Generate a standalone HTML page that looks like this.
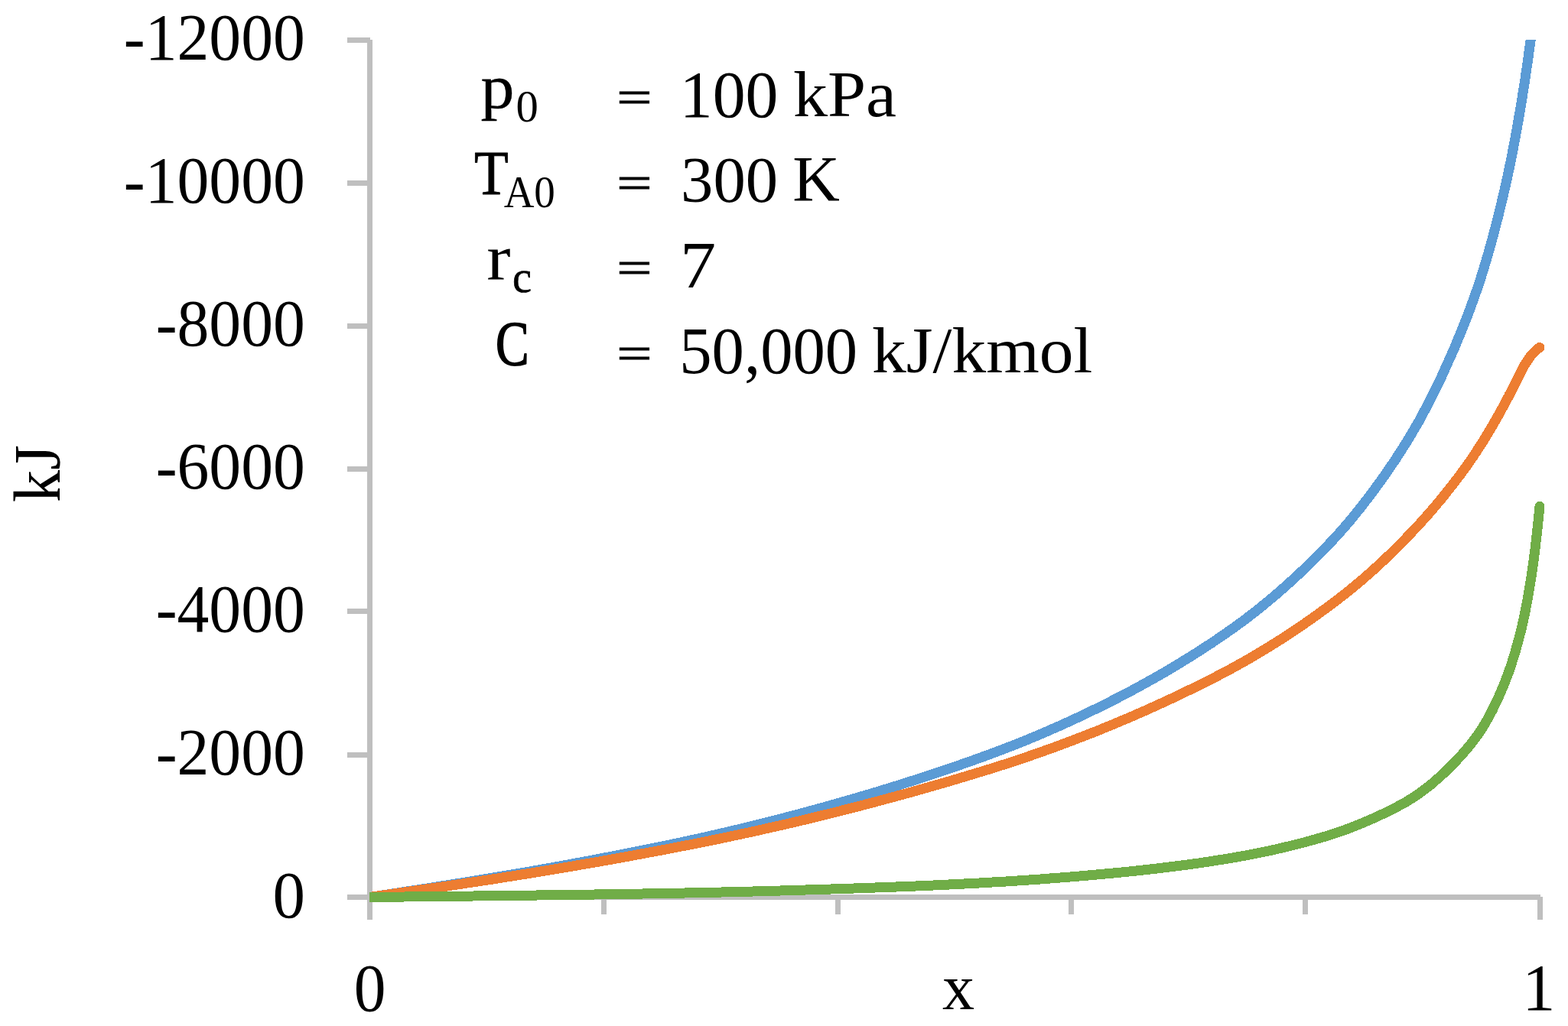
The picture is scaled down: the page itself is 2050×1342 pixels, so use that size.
<!DOCTYPE html>
<html lang="en">
<head>
<meta charset="utf-8">
<title>Chart</title>
<style>
html,body{margin:0;padding:0;background:#fff;}
body{width:2050px;height:1342px;overflow:hidden;}
svg{display:block;}
text{font-family:"Liberation Serif",serif;fill:#000;white-space:pre;}
.c{fill:none;stroke-width:13;stroke-linejoin:round;stroke-linecap:round;}
</style>
</head>
<body>
<svg width="2050" height="1342" viewBox="0 0 2050 1342" role="img" aria-label="Line chart of kJ versus x">
<defs><clipPath id="plot"><rect x="483" y="52" width="1567" height="1140"/></clipPath></defs>
<rect width="2050" height="1342" fill="#fff"/>
<g fill="#BFBFBF" shape-rendering="crispEdges">
<rect x="454" y="49" width="30" height="7"/>
<rect x="454" y="236" width="30" height="7"/>
<rect x="454" y="423" width="30" height="7"/>
<rect x="454" y="610" width="30" height="7"/>
<rect x="454" y="796" width="30" height="7"/>
<rect x="454" y="984" width="30" height="7"/>
<rect x="454" y="1170" width="30" height="7"/>
<rect x="480" y="52" width="7" height="1151"/>
<rect x="483" y="1170" width="1531" height="7"/>
<rect x="786" y="1173" width="7" height="23"/>
<rect x="1092" y="1173" width="7" height="23"/>
<rect x="1397" y="1173" width="7" height="23"/>
<rect x="1703" y="1173" width="7" height="23"/>
<rect x="2010" y="1173" width="7" height="30"/>
</g>
<g clip-path="url(#plot)" shape-rendering="crispEdges">
<path class="c" stroke="#5B9BD5" d="M483.5,1173.5 L498.6,1171.2 L513.6,1168.9 L528.7,1166.5 L543.8,1164.2 L558.8,1161.9 L573.9,1159.5 L589.0,1157.1 L604.1,1154.7 L619.1,1152.3 L634.2,1149.8 L649.3,1147.3 L664.3,1144.8 L679.4,1142.2 L694.5,1139.6 L709.5,1136.9 L724.6,1134.2 L739.7,1131.5 L754.7,1128.7 L769.8,1125.9 L784.9,1123.0 L800.0,1120.1 L815.0,1117.2 L830.1,1114.2 L845.2,1111.2 L860.2,1108.1 L875.3,1105.0 L890.4,1101.8 L905.4,1098.5 L920.5,1095.2 L935.6,1091.7 L950.6,1088.3 L965.7,1084.7 L980.8,1081.0 L995.9,1077.3 L1010.9,1073.5 L1026.0,1069.6 L1041.1,1065.7 L1056.1,1061.6 L1071.2,1057.5 L1086.3,1053.3 L1101.3,1049.0 L1116.4,1044.7 L1131.5,1040.2 L1146.5,1035.7 L1161.6,1031.1 L1176.7,1026.4 L1191.8,1021.6 L1206.8,1016.8 L1221.9,1011.8 L1237.0,1006.7 L1252.0,1001.6 L1267.1,996.3 L1282.2,990.9 L1297.2,985.4 L1312.3,979.7 L1327.4,973.9 L1342.4,967.8 L1357.5,961.5 L1372.6,955.0 L1387.6,948.4 L1402.7,941.5 L1417.8,934.4 L1432.9,927.1 L1447.9,919.6 L1463.0,912.0 L1478.1,904.1 L1493.1,895.9 L1508.2,887.5 L1523.3,878.9 L1538.3,869.9 L1553.4,860.7 L1568.5,851.2 L1583.5,841.4 L1598.6,831.2 L1613.7,820.6 L1628.8,809.5 L1643.8,797.9 L1658.9,785.6 L1674.0,772.7 L1689.0,759.3 L1704.1,745.2 L1719.2,730.6 L1734.2,715.3 L1749.3,699.1 L1764.4,681.8 L1779.4,663.3 L1794.5,643.6 L1809.6,622.7 L1824.7,600.6 L1839.7,577.1 L1854.8,551.5 L1869.9,523.2 L1884.9,492.3 L1900.0,458.5 L1901.3,455.6 L1902.5,452.6 L1903.8,449.6 L1905.1,446.5 L1906.3,443.5 L1907.6,440.4 L1908.9,437.3 L1910.2,434.2 L1911.4,431.1 L1912.7,427.9 L1914.0,424.7 L1915.2,421.5 L1916.5,418.3 L1917.8,415.0 L1919.0,411.7 L1920.3,408.3 L1921.6,404.9 L1922.9,401.5 L1924.1,398.0 L1925.4,394.5 L1926.7,391.0 L1927.9,387.4 L1929.2,383.8 L1930.5,380.2 L1931.7,376.5 L1933.0,372.7 L1934.3,368.9 L1935.6,365.0 L1936.8,361.0 L1938.1,357.0 L1939.4,352.9 L1940.6,348.8 L1941.9,344.6 L1943.2,340.3 L1944.4,336.0 L1945.7,331.6 L1947.0,327.1 L1948.2,322.6 L1949.5,318.0 L1950.8,313.4 L1952.1,308.7 L1953.3,303.9 L1954.6,299.1 L1955.9,294.2 L1957.1,289.2 L1958.4,284.2 L1959.7,279.1 L1960.9,273.9 L1962.2,268.7 L1963.5,263.4 L1964.8,258.0 L1966.0,252.6 L1967.3,247.1 L1968.6,241.5 L1969.8,235.8 L1971.1,230.0 L1972.4,224.1 L1973.6,218.1 L1974.9,211.9 L1976.2,205.6 L1977.4,199.1 L1978.7,192.5 L1980.0,185.8 L1981.3,179.0 L1982.5,172.0 L1983.8,164.9 L1985.1,157.6 L1986.3,150.3 L1987.6,142.8 L1988.9,135.2 L1990.1,127.5 L1991.4,119.5 L1992.7,111.4 L1994.0,103.1 L1995.2,94.5 L1996.5,85.8 L1997.8,77.0 L1999.0,67.9 L2000.3,58.6 L2001.6,49.1 L2002.8,39.2 L2004.1,28.8 L2005.4,18.0 L2006.7,6.6 L2007.9,-5.1 L2009.2,-17.4 L2010.5,-30.1 L2011.7,-43.3 L2013.0,-56.9"/>
<path class="c" stroke="#ED7D31" d="M483.5,1173.5 L498.6,1171.3 L513.6,1169.2 L528.7,1167.0 L543.8,1164.8 L558.8,1162.7 L573.9,1160.5 L589.0,1158.3 L604.1,1156.0 L619.1,1153.8 L634.2,1151.5 L649.3,1149.2 L664.3,1146.8 L679.4,1144.4 L694.5,1142.0 L709.5,1139.5 L724.6,1137.0 L739.7,1134.5 L754.7,1131.9 L769.8,1129.3 L784.9,1126.7 L800.0,1124.0 L815.0,1121.3 L830.1,1118.5 L845.2,1115.7 L860.2,1112.9 L875.3,1110.1 L890.4,1107.1 L905.4,1104.2 L920.5,1101.2 L935.6,1098.1 L950.6,1095.0 L965.7,1091.7 L980.8,1088.5 L995.9,1085.1 L1010.9,1081.7 L1026.0,1078.3 L1041.1,1074.8 L1056.1,1071.2 L1071.2,1067.5 L1086.3,1063.8 L1101.3,1060.0 L1116.4,1056.2 L1131.5,1052.2 L1146.5,1048.3 L1161.6,1044.2 L1176.7,1040.1 L1191.8,1036.0 L1206.8,1031.7 L1221.9,1027.4 L1237.0,1023.1 L1252.0,1018.6 L1267.1,1014.1 L1282.2,1009.5 L1297.2,1004.9 L1312.3,1000.1 L1327.4,995.2 L1342.4,990.1 L1357.5,984.9 L1372.6,979.5 L1387.6,974.0 L1402.7,968.3 L1417.8,962.5 L1432.9,956.6 L1447.9,950.5 L1463.0,944.2 L1478.1,937.8 L1493.1,931.3 L1508.2,924.5 L1523.3,917.6 L1538.3,910.6 L1553.4,903.3 L1568.5,895.9 L1583.5,888.4 L1598.6,880.6 L1613.7,872.5 L1628.8,864.1 L1643.8,855.3 L1658.9,846.2 L1674.0,836.7 L1689.0,826.9 L1704.1,816.7 L1719.2,806.1 L1734.2,795.2 L1749.3,783.9 L1764.4,772.0 L1779.4,759.5 L1794.5,746.3 L1809.6,732.4 L1824.7,717.8 L1839.7,702.5 L1854.8,686.6 L1869.9,669.7 L1884.9,651.9 L1900.0,632.9 L1901.3,631.3 L1902.5,629.6 L1903.8,627.9 L1905.1,626.3 L1906.3,624.6 L1907.6,622.9 L1908.9,621.2 L1910.2,619.5 L1911.4,617.8 L1912.7,616.0 L1914.0,614.3 L1915.2,612.5 L1916.5,610.8 L1917.8,609.0 L1919.0,607.2 L1920.3,605.4 L1921.6,603.6 L1922.9,601.7 L1924.1,599.9 L1925.4,598.0 L1926.7,596.1 L1927.9,594.2 L1929.2,592.3 L1930.5,590.4 L1931.7,588.4 L1933.0,586.5 L1934.3,584.5 L1935.6,582.5 L1936.8,580.5 L1938.1,578.5 L1939.4,576.5 L1940.6,574.4 L1941.9,572.3 L1943.2,570.3 L1944.4,568.2 L1945.7,566.1 L1947.0,563.9 L1948.2,561.8 L1949.5,559.6 L1950.8,557.5 L1952.1,555.3 L1953.3,553.1 L1954.6,550.9 L1955.9,548.6 L1957.1,546.4 L1958.4,544.1 L1959.7,541.9 L1960.9,539.6 L1962.2,537.3 L1963.5,534.9 L1964.8,532.6 L1966.0,530.3 L1967.3,527.9 L1968.6,525.5 L1969.8,523.1 L1971.1,520.7 L1972.4,518.3 L1973.6,515.8 L1974.9,513.4 L1976.2,510.9 L1977.4,508.4 L1978.7,505.9 L1980.0,503.4 L1981.3,500.9 L1982.5,498.3 L1983.8,495.7 L1985.1,493.1 L1986.3,490.5 L1987.6,487.9 L1988.9,485.4 L1990.1,483.0 L1991.4,480.7 L1992.7,478.5 L1994.0,476.3 L1995.2,474.3 L1996.5,472.3 L1997.8,470.4 L1999.0,468.6 L2000.3,466.9 L2001.6,465.2 L2002.8,463.7 L2004.1,462.2 L2005.4,460.9 L2006.7,459.6 L2007.9,458.4 L2009.2,457.2 L2010.5,456.2 L2011.7,455.3 L2013.0,454.4"/>
<path class="c" stroke="#70AD47" d="M483.5,1173.5 L498.6,1173.3 L513.6,1173.2 L528.7,1173.0 L543.8,1172.9 L558.8,1172.7 L573.9,1172.5 L589.0,1172.4 L604.1,1172.2 L619.1,1172.0 L634.2,1171.8 L649.3,1171.7 L664.3,1171.5 L679.4,1171.3 L694.5,1171.1 L709.5,1170.9 L724.6,1170.7 L739.7,1170.5 L754.7,1170.3 L769.8,1170.1 L784.9,1169.9 L800.0,1169.7 L815.0,1169.4 L830.1,1169.2 L845.2,1168.9 L860.2,1168.7 L875.3,1168.4 L890.4,1168.1 L905.4,1167.8 L920.5,1167.5 L935.6,1167.2 L950.6,1166.8 L965.7,1166.4 L980.8,1166.1 L995.9,1165.7 L1010.9,1165.3 L1026.0,1164.8 L1041.1,1164.4 L1056.1,1163.9 L1071.2,1163.5 L1086.3,1163.0 L1101.3,1162.5 L1116.4,1162.0 L1131.5,1161.5 L1146.5,1160.9 L1161.6,1160.4 L1176.7,1159.8 L1191.8,1159.2 L1206.8,1158.6 L1221.9,1157.9 L1237.0,1157.2 L1252.0,1156.4 L1267.1,1155.7 L1282.2,1154.9 L1297.2,1154.0 L1312.3,1153.2 L1327.4,1152.2 L1342.4,1151.2 L1357.5,1150.2 L1372.6,1149.0 L1387.6,1147.9 L1402.7,1146.7 L1417.8,1145.4 L1432.9,1144.1 L1447.9,1142.7 L1463.0,1141.3 L1478.1,1139.8 L1493.1,1138.2 L1508.2,1136.5 L1523.3,1134.7 L1538.3,1132.8 L1553.4,1130.9 L1568.5,1128.8 L1583.5,1126.5 L1598.6,1124.1 L1613.7,1121.6 L1628.8,1118.9 L1643.8,1116.0 L1658.9,1112.9 L1674.0,1109.5 L1689.0,1105.9 L1704.1,1102.1 L1719.2,1097.9 L1734.2,1093.6 L1749.3,1088.7 L1764.4,1083.3 L1779.4,1077.3 L1794.5,1070.8 L1809.6,1063.8 L1824.7,1056.3 L1839.7,1048.1 L1854.8,1038.4 L1869.9,1027.0 L1884.9,1013.9 L1900.0,999.1 L1901.3,997.8 L1902.5,996.5 L1903.8,995.1 L1905.1,993.8 L1906.3,992.4 L1907.6,991.0 L1908.9,989.6 L1910.2,988.2 L1911.4,986.8 L1912.7,985.4 L1914.0,983.9 L1915.2,982.5 L1916.5,981.0 L1917.8,979.5 L1919.0,978.0 L1920.3,976.4 L1921.6,974.8 L1922.9,973.3 L1924.1,971.7 L1925.4,970.0 L1926.7,968.4 L1927.9,966.7 L1929.2,965.0 L1930.5,963.3 L1931.7,961.5 L1933.0,959.7 L1934.3,957.9 L1935.6,956.0 L1936.8,954.0 L1938.1,952.0 L1939.4,950.0 L1940.6,947.9 L1941.9,945.7 L1943.2,943.5 L1944.4,941.3 L1945.7,939.0 L1947.0,936.7 L1948.2,934.3 L1949.5,931.9 L1950.8,929.4 L1952.1,926.9 L1953.3,924.3 L1954.6,921.7 L1955.9,919.0 L1957.1,916.3 L1958.4,913.5 L1959.7,910.7 L1960.9,907.8 L1962.2,904.9 L1963.5,901.9 L1964.8,898.9 L1966.0,895.8 L1967.3,892.7 L1968.6,889.5 L1969.8,886.2 L1971.1,882.8 L1972.4,879.3 L1973.6,875.7 L1974.9,872.0 L1976.2,868.2 L1977.4,864.2 L1978.7,860.1 L1980.0,855.9 L1981.3,851.6 L1982.5,847.2 L1983.8,842.7 L1985.1,838.0 L1986.3,833.3 L1987.6,828.4 L1988.9,823.3 L1990.1,817.9 L1991.4,812.3 L1992.7,806.4 L1994.0,800.2 L1995.2,793.8 L1996.5,787.1 L1997.8,780.1 L1999.0,772.8 L2000.3,765.3 L2001.6,757.4 L2002.8,749.0 L2004.1,740.1 L2005.4,730.6 L2006.7,720.6 L2007.9,710.0 L2009.2,698.9 L2010.5,687.2 L2011.7,675.0 L2013.0,662.2"/>
</g>
<g>
<text><tspan x="161.82" y="77.87" font-size="87.77" textLength="237.09" lengthAdjust="spacingAndGlyphs">-12000</tspan></text>
<text><tspan x="161.82" y="265.08" font-size="87.77" textLength="237.09" lengthAdjust="spacingAndGlyphs">-10000</tspan></text>
<text><tspan x="203.65" y="452.04" font-size="87.77" textLength="195.19" lengthAdjust="spacingAndGlyphs">-8000</tspan></text>
<text><tspan x="203.65" y="639.00" font-size="87.77" textLength="195.19" lengthAdjust="spacingAndGlyphs">-6000</tspan></text>
<text><tspan x="203.65" y="826.21" font-size="88.14" textLength="195.19" lengthAdjust="spacingAndGlyphs">-4000</tspan></text>
<text><tspan x="203.65" y="1013.17" font-size="87.77" textLength="195.19" lengthAdjust="spacingAndGlyphs">-2000</tspan></text>
<text><tspan x="356.39" y="1200.13" font-size="87.77" textLength="42.47" lengthAdjust="spacingAndGlyphs">0</tspan></text>
<text><tspan x="462.70" y="1322.26" font-size="87.84" textLength="41.77" lengthAdjust="spacingAndGlyphs">0</tspan></text>
<text><tspan x="1232.10" y="1320.14" font-size="85.64" textLength="42.06" lengthAdjust="spacingAndGlyphs">x</tspan></text>
<text><tspan x="1990.29" y="1321.00" font-size="86.29" textLength="43.21" lengthAdjust="spacingAndGlyphs">1</tspan></text>
<text transform="rotate(-90)"><tspan x="-656.90" y="78.15" font-size="86.76" textLength="75.02" lengthAdjust="spacingAndGlyphs">kJ</tspan></text>
<text><tspan x="628.53" y="141.49" font-size="81.28" textLength="43.98" lengthAdjust="spacingAndGlyphs" style="stroke:#000;stroke-width:0.4px;stroke-linejoin:round">p</tspan><tspan x="674.60" y="158.51" font-size="58.28" textLength="29.36" lengthAdjust="spacingAndGlyphs">0</tspan> <tspan x="806.59" y="146.87" font-size="59.72" textLength="45.79" lengthAdjust="spacingAndGlyphs" style="stroke:#000;stroke-width:1.1px;stroke-linejoin:miter">=</tspan> <tspan x="888.74" y="152.62" font-size="85.87" textLength="128.73" lengthAdjust="spacingAndGlyphs">100</tspan> <tspan x="1036.95" y="152.15" font-size="85.02" textLength="135.18" lengthAdjust="spacingAndGlyphs">kPa</tspan></text>
<text><tspan x="620.06" y="253.70" font-size="82.81" textLength="44.79" lengthAdjust="spacingAndGlyphs" style="stroke:#000;stroke-width:0.9px;stroke-linejoin:round">T</tspan><tspan x="658.65" y="270.71" font-size="58.44" textLength="67.21" lengthAdjust="spacingAndGlyphs">A0</tspan> <tspan x="806.59" y="259.00" font-size="59.33" textLength="45.79" lengthAdjust="spacingAndGlyphs" style="stroke:#000;stroke-width:1.1px;stroke-linejoin:miter">=</tspan> <tspan x="890.11" y="263.87" font-size="84.22" textLength="127.12" lengthAdjust="spacingAndGlyphs">300</tspan> <tspan x="1036.13" y="263.45" font-size="84.70" textLength="61.64" lengthAdjust="spacingAndGlyphs">K</tspan></text>
<text><tspan x="636.17" y="365.37" font-size="84.54" textLength="31.29" lengthAdjust="spacingAndGlyphs">r</tspan><tspan x="670.09" y="381.61" font-size="58.13" textLength="25.07" lengthAdjust="spacingAndGlyphs" style="stroke:#000;stroke-width:0.6px;stroke-linejoin:round">c</tspan> <tspan x="806.59" y="369.87" font-size="59.72" textLength="45.79" lengthAdjust="spacingAndGlyphs" style="stroke:#000;stroke-width:1.1px;stroke-linejoin:miter">=</tspan> <tspan x="889.00" y="375.65" font-size="86.52" textLength="47.15" lengthAdjust="spacingAndGlyphs">7</tspan></text>
<text><tspan x="647.92" y="476.52" font-size="83.20" textLength="43.63" lengthAdjust="spacingAndGlyphs" style="stroke:#000;stroke-width:1.7px;stroke-linejoin:round">C</tspan> <tspan x="806.59" y="481.82" font-size="59.50" textLength="45.79" lengthAdjust="spacingAndGlyphs" style="stroke:#000;stroke-width:1.1px;stroke-linejoin:miter">=</tspan> <tspan x="888.27" y="487.76" font-size="85.86" textLength="232.93" lengthAdjust="spacingAndGlyphs">50,000</tspan> <tspan x="1140.01" y="487.15" font-size="85.25" textLength="288.37" lengthAdjust="spacingAndGlyphs">kJ/kmol</tspan></text>
</g>
</svg>
</body>
</html>
